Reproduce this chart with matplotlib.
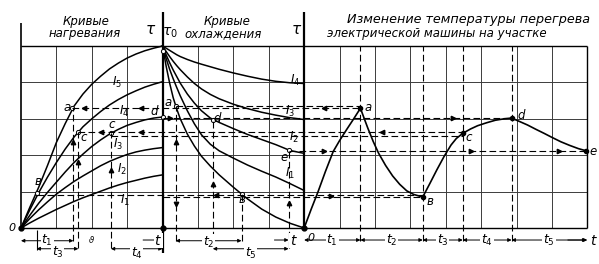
import numpy as np
import matplotlib.pyplot as plt

# all values in grid cells: time along x, overheat along y
# heating curves (left panel)
heat_t = [0, 0.25, 0.5, 0.75, 1.0, 1.25, 1.5, 1.75, 2.0,
          2.25, 2.5, 2.75, 3.0, 3.25, 3.5, 3.75, 4.0]
heat_I5 = [0, 0.57, 1.12, 1.72, 2.35, 2.87, 3.35, 3.68, 3.95,
           4.17, 4.37, 4.53, 4.67, 4.78, 4.87, 4.94, 5.0]
heat_I4 = [0, 0.5, 0.97, 1.4, 1.8, 2.17, 2.5, 2.78, 3.0,
           3.2, 3.38, 3.53, 3.66, 3.77, 3.87, 3.95, 4.02]
heat_I3 = [0, 0.35, 0.68, 0.98, 1.26, 1.54, 1.8, 2.03, 2.24,
           2.42, 2.58, 2.71, 2.82, 2.9, 2.97, 3.02, 3.05]
heat_I2 = [0, 0.26, 0.5, 0.72, 0.93, 1.11, 1.28, 1.43, 1.57,
           1.71, 1.83, 1.93, 2.02, 2.09, 2.14, 2.18, 2.21]
heat_I1 = [0, 0.14, 0.27, 0.39, 0.51, 0.62, 0.73, 0.83, 0.92,
           1.01, 1.1, 1.18, 1.25, 1.31, 1.37, 1.42, 1.46]

# cooling curves (middle panel)
cool_t = [0, 0.1, 0.2, 0.3, 0.4, 0.5, 0.7, 0.9, 1.1, 1.35, 1.6,
          2.0, 2.4, 2.8, 3.2, 3.6, 4.0]
cool_I4 = [5.0, 4.94, 4.88, 4.82, 4.76, 4.71, 4.63, 4.56, 4.5, 4.43, 4.36,
           4.26, 4.17, 4.09, 4.03, 3.99, 3.97]
cool_I3 = [5.0, 4.85, 4.71, 4.58, 4.46, 4.35, 4.15, 3.97, 3.82, 3.67, 3.55,
           3.4, 3.28, 3.18, 3.1, 3.03, 2.98]
cool_I2 = [5.0, 4.76, 4.54, 4.34, 4.16, 3.98, 3.68, 3.43, 3.22, 3.02, 2.9,
           2.73, 2.57, 2.43, 2.29, 2.13, 2.05]
cool_I1 = [5.0, 4.66, 4.36, 4.1, 3.86, 3.63, 3.22, 2.86, 2.56, 2.3, 2.12,
           1.92, 1.73, 1.56, 1.4, 1.22, 1.03]
cool_0 = [5.0, 4.45, 3.98, 3.58, 3.27, 3.0, 2.58, 2.25, 1.97, 1.7, 1.46,
          1.12, 0.8, 0.52, 0.3, 0.13, 0.0]

# overheat of the machine over the cycle (right panel)
cycle_t = [0, 0.2, 0.39, 0.6, 0.82, 1.0, 1.19, 1.4, 1.59,
           1.7, 1.8, 1.95, 2.1, 2.3, 2.5, 2.7, 2.9, 3.1, 3.35,
           3.55, 3.75, 3.95, 4.15, 4.3, 4.48,
           4.7, 4.9, 5.15, 5.4, 5.65, 5.86,
           6.1, 6.31, 6.55, 6.78, 7.0, 7.25, 7.5, 7.75, 7.97]
cycle_v = [0, 0.52, 0.99, 1.55, 2.1, 2.4, 2.69, 3.0, 3.29,
           3.0, 2.74, 2.38, 2.06, 1.72, 1.43, 1.2, 1.02, 0.92, 0.85,
           1.22, 1.6, 1.96, 2.28, 2.46, 2.6,
           2.72, 2.81, 2.89, 2.96, 3.0, 3.02,
           2.92, 2.83, 2.71, 2.6, 2.49, 2.37, 2.27, 2.18, 2.12]
cycle_pts = {'a': 8, 'в': 18, 'c': 24, 'd': 30, 'e': 39}
stage_labels = ['$t_1$', '$t_2$', '$t_3$', '$t_4$', '$t_5$']

# marked points in the left panels (time, overheat)
heat_pts = {'a': (1.45, 3.29), 'в': (0.44, 0.97), 'c_I4': (1.62, 2.63),
            'c_I3': (2.54, 2.6), "d'": (4.0, 3.05)}
cool_pts = {'a': (0.37, 3.36), 'd': (1.42, 2.98), 'в': (2.23, 0.94),
            'e': (3.56, 2.14)}

P2 = 4   # start of cooling panel
P3 = 8   # start of cycle panel
END = 16
TOP = 5

GRID = '#3c3c3c'
DASH = (0, (6, 3))
FONT = dict(family='DejaVu Sans', style='italic', color='k')

fig = plt.figure(figsize=(5.99, 2.64), dpi=100)
ax = fig.add_axes([0, 0, 1, 1])
ax.set_xlim(-0.593, 16.33)
ax.set_ylim(-0.989, 6.264)
ax.axis('off')

# grid
ax.hlines(range(1, 5), 0, END, color=GRID, lw=0.7)
ax.vlines([1, 2, 3, 5, 6, 7] + list(range(9, 16)), 0, TOP, color=GRID, lw=0.7)
ax.hlines([0, TOP], 0, END, color='k', lw=1.0)
ax.vlines(END, 0, TOP, color='k', lw=1.0)
ax.vlines(0, 0, 5.63, color='k', lw=1.2)
ax.vlines(P2, -0.69, 5.93, color='k', lw=1.6)
ax.vlines(P3, -0.05, 5.93, color='k', lw=1.6)

# heating
for v in [heat_I5, heat_I4, heat_I3, heat_I2, heat_I1]:
    ax.plot(heat_t, v, color='k', lw=1.1, solid_joinstyle='round')

# cooling
for v in [cool_I4, cool_I3, cool_I2, cool_I1, cool_0]:
    ax.plot(np.array(cool_t) + P2, v, color='k', lw=1.1,
            solid_joinstyle='round')

# cycle
ct = np.array(cycle_t) + P3
ax.plot(ct, cycle_v, color='k', lw=1.2, solid_joinstyle='round')
for k, i in cycle_pts.items():
    ax.plot(ct[i], cycle_v[i], 'o', color='k', ms=3)

pa1, pv1 = heat_pts['a'], heat_pts['в']
pc1, pc2, pd1 = heat_pts['c_I4'], heat_pts['c_I3'], heat_pts["d'"]
pa2, pd2, pv2, pe2 = [(t + P2, v) for t, v in
                      [cool_pts['a'], cool_pts['d'], cool_pts['в'], cool_pts['e']]]
for p in [pa1, pv1, pc1, pc2, pd1, pa2, pv2, pd2, pe2]:
    ax.plot(*p, 'o', mfc='white', mec='k', ms=3, mew=0.7)
ax.plot([0, P2, P3], [0, 0, 0], 'o', color='k', ms=3.5)
ax.plot(P2, TOP - 0.15, 'o', mfc='white', mec='k', ms=3, mew=0.7)

pa3, pv3, pc3, pd3, pe3 = [(ct[cycle_pts[k]], cycle_v[cycle_pts[k]])
                           for k in ['a', 'в', 'c', 'd', 'e']]

# horizontal construction lines
dk = dict(color='k', lw=0.8, ls=DASH)
ax.hlines(pa1[1], pa1[0], pa3[0], **dk)
ax.hlines(pa2[1], pa2[0], pa3[0], **dk)
ax.hlines(pd3[1], pd1[0], pd3[0], **dk)
ax.hlines(pc1[1], pc1[0], pc3[0], **dk)
ax.hlines(pc3[1] - 0.06, pc2[0], pc3[0], **dk)
ax.hlines(pe3[1], pe2[0], pe3[0], **dk)
ax.hlines(0.92, pv1[0], pv3[0], **dk)
ax.hlines(0.86, P2, pv3[0], **dk)

# vertical construction lines
ax.vlines([pa3[0], pv3[0], pc3[0], pd3[0]], -0.35, TOP, **dk)
ax.vlines(pa1[0] + 0.03, -0.35, pa1[1], **dk)
ax.vlines(pc1[0], -0.55, pc1[1], **dk)
ax.vlines(pc2[0], -0.55, pc2[1], **dk)
ax.vlines(pv1[0], -0.6, -0.05, color='k', lw=0.8)
ax.vlines(pa2[0], -0.35, pa2[1], **dk)
ax.vlines(pd2[0], -0.55, pd2[1], **dk)
ax.vlines(pv2[0], -0.35, pv2[1], **dk)
ax.vlines(pe2[0], -0.55, pe2[1], **dk)

# arrow heads on construction lines
ar = dict(color='k', ms=3.2, ls='none')
ax.plot([1.78, 3.4, 8.55], [pa1[1]] * 3, marker='<', **ar)
ax.plot([2.25, 3.4, 10.2], [pc1[1]] * 3, marker='<', **ar)
ax.plot([4.2, 12.2], [pd3[1]] * 2, marker='>', **ar)
ax.plot([8.55, 12.7, 15.2], [pe3[1]] * 3, marker='>', **ar)
ax.plot([5.5], [0.9], marker='<', **ar)
ax.plot([8.75], [0.88], marker='>', **ar)
ax.plot([pa1[0] + 0.03, pc1[0], pc2[0], pa2[0], pd2[0], pe2[0]],
        [2.35, 1.8, 1.6, 2.35, 1.2, 0.7], marker='^', **ar)
ax.plot([pa2[0]], [0.65], marker='v', **ar)


def dim(x0, x1, y, label, lx=None, ly=None):
    ax.annotate('', xy=(x1, y), xytext=(x0, y),
                arrowprops=dict(arrowstyle='<|-|>', lw=0.7, color='k',
                                shrinkA=0, shrinkB=0, mutation_scale=5))
    lx = (x0 + x1) / 2 if lx is None else lx
    ly = y if ly is None else ly
    ax.text(lx, ly, label, fontsize=9, ha='center', va='center',
            bbox=dict(fc='white', ec='none', pad=0.5), **FONT)


# time intervals
dim(0, pa1[0] + 0.03, -0.35, '$t_1$')
dim(pv1[0], pc1[0], -0.57, '$t_3$', ly=-0.66)
dim(pc2[0], P2, -0.57, '$t_4$', ly=-0.7)
dim(pa2[0], pv2[0], -0.35, '$t_2$', ly=-0.4)
dim(pd2[0], pe2[0], -0.57, '$t_5$', ly=-0.7)
xs = [P3, pa3[0], pv3[0], pc3[0], pd3[0], pe3[0]]
for i, lab in enumerate(stage_labels):
    dim(xs[i], xs[i + 1], -0.33, lab)
for x0, x1 in [(P2 - 0.55, P2), (pe2[0] - 0.4, pe2[0]), (END - 0.55, END)]:
    ax.annotate('', xy=(x1, -0.33), xytext=(x0, -0.33),
                arrowprops=dict(arrowstyle='-|>', lw=0.7, color='k',
                                shrinkA=0, shrinkB=0, mutation_scale=5))
for x in [P2 - 0.12, P3 - 0.3, END + 0.18]:
    ax.text(x, -0.35, '$t$', fontsize=10, ha='center', va='center',
            bbox=dict(fc='white', ec='none', pad=0.3), **FONT)
ax.text(2.0, -0.33, 'ϑ', fontsize=6, ha='center', va='center', **FONT)

# axis labels
ax.text(-0.25, 0.0, '0', fontsize=8, ha='center', va='center', **FONT)
ax.text(P3 + 0.08, -0.27, '0', fontsize=8, ha='left', va='center', **FONT)
ax.text(P2 - 0.35, 5.45, r'$\tau$', fontsize=11, ha='center', va='center', **FONT)
ax.text(P2 + 0.22, 5.35, r'$\tau_0$', fontsize=10, ha='center', va='center', **FONT)
ax.text(P3 - 0.2, 5.45, r'$\tau$', fontsize=11, ha='center', va='center', **FONT)

# current labels
for u, v, s in [(2.7, 4.0, '$I_5$'), (2.9, 3.2, '$I_4$'), (2.75, 2.3, '$I_3$'),
                (2.85, 1.6, '$I_2$'), (2.93, 0.77, '$I_1$'),
                (7.75, 4.05, '$I_4$'), (7.6, 3.2, '$I_3$'), (7.7, 2.5, '$I_2$'),
                (7.6, 1.5, '$I_1$')]:
    ax.text(u, v, s, fontsize=8.5, ha='center', va='center', **FONT)

# point labels
for u, v, s in [(1.3, 3.3, 'a'), (1.78, 2.5, 'c'), (2.55, 2.85, 'c'),
                (3.75, 3.2, 'd'), (0.48, 1.27, 'в'), (4.15, 3.45, 'a'),
                (5.55, 3.0, 'd'), (7.42, 1.95, 'e'),
                (6.25, 0.78, 'в'), (9.8, 3.3, 'a'), (11.55, 0.72, 'в'),
                (12.65, 2.5, 'c'), (14.13, 3.1, 'd'), (16.15, 2.1, 'e')]:
    ax.text(u, v, s, fontsize=8.5, ha='center', va='center', **FONT)

# titles
ax.text(1.85, 5.68, 'Кривые', fontsize=8.5, ha='center', va='center', **FONT)
ax.text(1.8, 5.35, 'нагревания', fontsize=8.5, ha='center', va='center', **FONT)
ax.text(5.83, 5.68, 'Кривые', fontsize=8.5, ha='center', va='center', **FONT)
ax.text(5.7, 5.35, 'охлаждения', fontsize=8.5, ha='center', va='center', **FONT)
ax.text(12.65, 5.72, 'Изменение температуры перегрева', fontsize=9.2,
        ha='center', va='center', **FONT)
ax.text(11.75, 5.35, 'электрической машины на участке', fontsize=8.5,
        ha='center', va='center', **FONT)

fig.savefig('out.png', dpi=100)
